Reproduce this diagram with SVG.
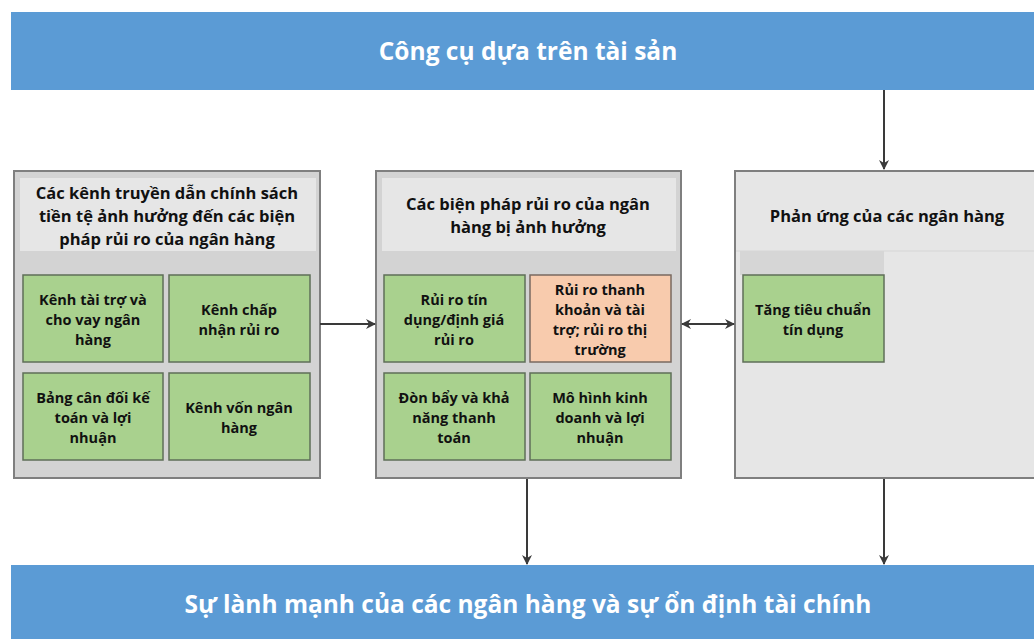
<svg xmlns="http://www.w3.org/2000/svg" width="1034" height="639" viewBox="0 0 1034 639">
<style>
.banner{fill:#5b9bd5}
.btxt{font-family:"Open Sans","Liberation Sans",sans-serif;font-weight:700;font-size:24.5px;fill:#fff;text-anchor:middle}
.panel{fill:#d3d3d3;stroke:#7f7f7f;stroke-width:2}
.phead{fill:#e6e6e6}
.htxt{font-family:"Open Sans","Liberation Sans",sans-serif;font-weight:700;font-size:16.5px;fill:#111;text-anchor:middle}
.box{fill:#a9d18e;stroke:#5f6f58;stroke-width:1.5}
.obox{fill:#f8cbad;stroke:#7a6a60;stroke-width:1.5}
.t{font-family:"Open Sans","Liberation Sans",sans-serif;font-weight:700;font-size:14.5px;fill:#111;text-anchor:middle}
.ln{stroke:#3a3a3a;stroke-width:2;fill:none}
</style>
<defs>
<marker id="ah" markerWidth="10" markerHeight="10" refX="9" refY="5" orient="auto-start-reverse" markerUnits="userSpaceOnUse">
<path d="M0,0 L10,5 L0,10 L3,5 Z" fill="#3a3a3a"/>
</marker>
</defs>
<rect width="1034" height="639" fill="#fff"/>

<g id="top-banner">
<rect class="banner" x="11" y="12" width="1023" height="78"/>
<text class="btxt" x="528" y="60">Công cụ dựa trên tài sản</text>
</g>

<g id="bottom-banner">
<rect class="banner" x="11" y="565" width="1023" height="74"/>
<text class="btxt" x="528" y="613">Sự lành mạnh của các ngân hàng và sự ổn định tài chính</text>
</g>

<g id="panel-left">
<rect class="panel" x="14" y="171" width="306" height="307"/>
<rect class="phead" x="20" y="178" width="296" height="73"/>
<text class="htxt" x="167" y="199">Các kênh truyền dẫn chính sách</text>
<text class="htxt" x="167" y="222">tiền tệ ảnh hưởng đến các biện</text>
<text class="htxt" x="167" y="245">pháp rủi ro của ngân hàng</text>
</g>
<g id="kenh-tai-tro">
<rect class="box" x="23" y="275" width="140" height="87"/>
<text class="t" x="93" y="305">Kênh tài trợ và</text>
<text class="t" x="93" y="325">cho vay ngân</text>
<text class="t" x="93" y="345">hàng</text>
</g>
<g id="kenh-chap-nhan">
<rect class="box" x="169" y="275" width="141" height="87"/>
<text class="t" x="239" y="315">Kênh chấp</text>
<text class="t" x="239" y="335">nhận rủi ro</text>
</g>
<g id="bang-can-doi">
<rect class="box" x="23" y="373" width="140" height="87"/>
<text class="t" x="93" y="403">Bảng cân đối kế</text>
<text class="t" x="93" y="423">toán và lợi</text>
<text class="t" x="93" y="443">nhuận</text>
</g>
<g id="kenh-von">
<rect class="box" x="169" y="373" width="141" height="87"/>
<text class="t" x="239" y="413">Kênh vốn ngân</text>
<text class="t" x="239" y="433">hàng</text>
</g>

<g id="panel-middle">
<rect class="panel" x="376" y="171" width="305" height="307"/>
<rect class="phead" x="382" y="178" width="294" height="73"/>
<text class="htxt" x="528" y="210">Các biện pháp rủi ro của ngân</text>
<text class="htxt" x="528" y="233">hàng bị ảnh hưởng</text>
</g>
<g id="rui-ro-tin-dung">
<rect class="box" x="384" y="275" width="141" height="87"/>
<text class="t" x="454" y="305">Rủi ro tín</text>
<text class="t" x="454" y="325">dụng/định giá</text>
<text class="t" x="454" y="345">rủi ro</text>
</g>
<g id="rui-ro-thanh-khoan">
<rect class="obox" x="530" y="275" width="141" height="87"/>
<text class="t" x="600" y="295">Rủi ro thanh</text>
<text class="t" x="600" y="315">khoản và tài</text>
<text class="t" x="600" y="335">trợ; rủi ro thị</text>
<text class="t" x="600" y="355">trường</text>
</g>
<g id="don-bay">
<rect class="box" x="384" y="373" width="141" height="87"/>
<text class="t" x="454" y="403">Đòn bẩy và khả</text>
<text class="t" x="454" y="423">năng thanh</text>
<text class="t" x="454" y="443">toán</text>
</g>
<g id="mo-hinh">
<rect class="box" x="530" y="373" width="141" height="87"/>
<text class="t" x="600" y="403">Mô hình kinh</text>
<text class="t" x="600" y="423">doanh và lợi</text>
<text class="t" x="600" y="443">nhuận</text>
</g>

<g id="panel-right">
<rect x="735" y="171" width="310" height="307" fill="#e6e6e6" stroke="#7f7f7f" stroke-width="2"/>
<line x1="736" y1="251" x2="1034" y2="251" stroke="#d6d6d6" stroke-width="1"/>
<rect x="740" y="251" width="144" height="24" fill="#d6d6d6"/>
<text class="htxt" x="887" y="222">Phản ứng của các ngân hàng</text>
</g>
<g id="tang-tieu-chuan">
<rect class="box" x="743" y="275" width="141" height="87"/>
<text class="t" x="813" y="315">Tăng tiêu chuẩn</text>
<text class="t" x="813" y="335">tín dụng</text>
</g>

<g id="connectors">
<line class="ln" x1="884" y1="90" x2="884" y2="169" marker-end="url(#ah)"/>
<line class="ln" x1="320" y1="324" x2="375" y2="324" marker-end="url(#ah)"/>
<line class="ln" x1="682" y1="324" x2="734" y2="324" marker-start="url(#ah)" marker-end="url(#ah)"/>
<line class="ln" x1="527" y1="479" x2="527" y2="564" marker-end="url(#ah)"/>
<line class="ln" x1="884" y1="479" x2="884" y2="564" marker-end="url(#ah)"/>
</g>
</svg>
